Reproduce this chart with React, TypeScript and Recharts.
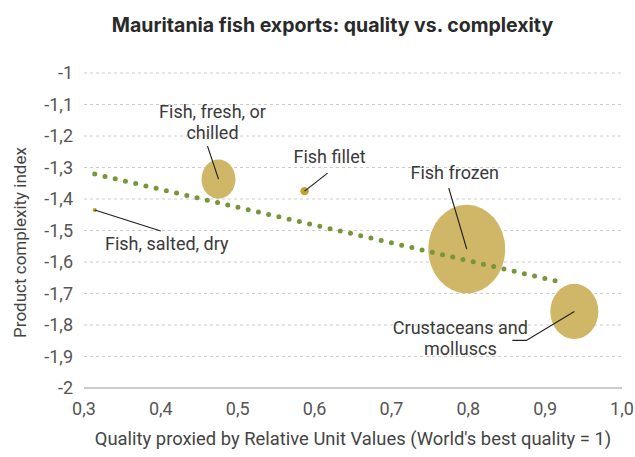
import { ScatterChart, Scatter, XAxis, YAxis, ZAxis, CartesianGrid } from "recharts";

// product groups: quality (x), complexity (y), export size (z)
const products = ["Fish, salted, dry", "Fish, fresh, or chilled", "Fish fillet", "Fish frozen", "Crustaceans and molluscs"];
const quality = [0.314, 0.475, 0.587, 0.798, 0.938];
const complexity = [-1.435, -1.337, -1.375, -1.559, -1.757];
const exportSize = [0.3, 19.5, 1.2, 100, 39];

// fitted trend, end points
const trendX = [0.314, 0.926];
const trendY = [-1.321, -1.667];

const xTicks = [0.3, 0.4, 0.5, 0.6, 0.7, 0.8, 0.9, 1.0];
const yTicks = [-2, -1.9, -1.8, -1.7, -1.6, -1.5, -1.4, -1.3, -1.2, -1.1, -1];

const bubbleData = products.map((name, i) => ({ name, x: quality[i], y: complexity[i], z: exportSize[i] }));
const trendData = trendX.map((x, i) => ({ x, y: trendY[i] }));

const GOLD = "#cfb767";
const GREEN = "#77963c";
const TEXT = "#3a3a3a";
const FONT = "Roboto, sans-serif";

// label placement relative to bubble centre
const notes: Record<string, { lines: string[]; dx: number; dy: number[]; path: [number, number][] }> = {
  "Fish, salted, dry": { lines: ["Fish, salted, dry"], dx: 72, dy: [33], path: [[0, 0], [66, 21]] },
  "Fish, fresh, or chilled": { lines: ["Fish, fresh, or", "chilled"], dx: -6, dy: [-68, -47], path: [[-11, -33], [0, 0]] },
  "Fish fillet": { lines: ["Fish fillet"], dx: 25, dy: [-35], path: [[0, 0], [23, -18]] },
  "Fish frozen": { lines: ["Fish frozen"], dx: -12, dy: [-77], path: [[-18, -61], [0, 0]] },
  "Crustaceans and molluscs": { lines: ["Crustaceans and", "molluscs"], dx: -114, dy: [16, 37], path: [[0, 0], [-48, 29], [-62, 29]] },
};

const fmt = (v: number) => (Number.isInteger(v) && v < 0 ? String(v) : v.toFixed(1).replace(".", ","));

const Bubble = (props: any) => {
  const { cx, cy, width, payload } = props;
  const r = Math.max((width || 4) / 2, 2);
  const note = notes[payload.name];
  const small = payload.name === "Fish fillet" || payload.name === "Fish, salted, dry";
  return (
    <g>
      <ellipse cx={cx} cy={cy} rx={r} ry={small ? r : r * 1.15} fill={small ? "#c4a033" : GOLD} />
      {note && (
        <polyline
          points={note.path.map(([a, b]) => `${cx + a},${cy + b}`).join(" ")}
          fill="none"
          stroke="#222"
          strokeWidth={1.2}
        />
      )}
      {note &&
        note.lines.map((t, i) => (
          <text
            key={i}
            x={cx + note.dx}
            y={cy + note.dy[i]}
            textAnchor="middle"
            dominantBaseline="central"
            fontSize={18}
            fill={TEXT}
            fontFamily={FONT}
          >
            {t}
          </text>
        ))}
    </g>
  );
};

const YTitle = (props: any) => {
  const { viewBox } = props;
  const x = viewBox.x - 4;
  const y = viewBox.y + viewBox.height / 2 + 12;
  return (
    <text
      x={x}
      y={y}
      transform={`rotate(-90, ${x}, ${y})`}
      textAnchor="middle"
      dominantBaseline="central"
      fontSize={17}
      fill="#444"
      fontFamily={FONT}
    >
      Product complexity index
    </text>
  );
};

export default function App() {
  return (
    <div style={{ position: "absolute", left: 0, top: 0, width: 635, height: 457, background: "#fff", fontFamily: FONT }}>
      <div
        style={{
          position: "absolute",
          top: 13,
          left: 15,
          width: 635,
          textAlign: "center",
          fontFamily: "Inter, sans-serif",
          fontWeight: 700,
          fontSize: 19.5,
          color: "#2a2a2a",
        }}
      >
        Mauritania fish exports: quality vs. complexity
      </div>
      <ScatterChart width={635} height={457} margin={{ top: 73, right: 13, bottom: 39, left: 24 }}>
        <CartesianGrid horizontal vertical={false} stroke="#cccccc" strokeDasharray="3 3" />
        <XAxis
          type="number"
          dataKey="x"
          domain={[0.3, 1]}
          ticks={xTicks}
          tickFormatter={fmt}
          tickLine={false}
          axisLine={{ stroke: "#cccccc", strokeWidth: 2 }}
          height={30}
          tickMargin={8}
          tick={{ fill: "#555", fontSize: 18 }}
          label={{ value: "Quality proxied by Relative Unit Values (World's best quality = 1)", position: "bottom", offset: 14, fill: "#444", fontSize: 18.4 }}
        />
        <YAxis
          type="number"
          dataKey="y"
          domain={[-2, -1]}
          ticks={yTicks}
          tickFormatter={fmt}
          tickLine={false}
          axisLine={false}
          width={60}
          tickMargin={5}
          tick={{ fill: "#555", fontSize: 18 }}
          label={<YTitle />}
        />
        <ZAxis type="number" dataKey="z" domain={[0, 100]} range={[0, 4650]} />
        <Scatter data={bubbleData} shape={Bubble} isAnimationActive={false} />
        <Scatter
          data={trendData}
          shape={() => <g />}
          line={{ stroke: GREEN, strokeWidth: 5, strokeDasharray: "0 10.5", strokeLinecap: "round" }}
          isAnimationActive={false}
        />
      </ScatterChart>
    </div>
  );
}
